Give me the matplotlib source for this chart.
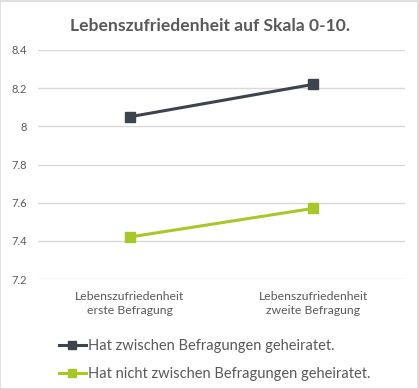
import numpy as np
import matplotlib
matplotlib.use('Agg')
import matplotlib.pyplot as plt
from matplotlib.patches import Rectangle

categories = ['Lebenszufriedenheit\nerste Befragung',
              'Lebenszufriedenheit\nzweite Befragung']
married = [8.05, 8.22]
not_married = [7.42, 7.57]
labels = ['Hat zwischen Befragungen geheiratet.',
          'Hat nicht zwischen Befragungen geheiratet.']
yticks = [7.2, 7.4, 7.6, 7.8, 8.0, 8.2, 8.4]
ytick_labels = ['7.2', '7.4', '7.6', '7.8', '8', '8.2', '8.4']

plt.rcParams['font.family'] = ['Lato', 'DejaVu Sans']
txt = '#595959'
dark = '#3d444c'
green = '#a8c82a'

fig = plt.figure(figsize=(4.19, 3.89), dpi=100)
fig.patches.append(Rectangle((0.001, 0.001), 0.997, 0.997, transform=fig.transFigure,
                             fill=False, ec='#d9d9d9', lw=1.2))
ax = fig.add_axes([38/419, 1-279/389, 367/419, 229/389])

x = np.arange(len(categories))
l1, = ax.plot(x, married, color=dark, lw=2.2, marker='s', ms=7.5, label=labels[0])
l2, = ax.plot(x, not_married, color=green, lw=2.2, marker='s', ms=7.5, label=labels[1])

ax.set_xlim(-0.5, 1.5)
ax.set_ylim(7.2, 8.4)
ax.set_yticks(yticks)
ax.set_yticklabels(ytick_labels, color=txt, fontsize=8)
ax.set_xticks(x)
ax.set_xticklabels(categories, color=txt, fontsize=8.8, linespacing=1.25)
ax.tick_params(length=0, pad=8)
ax.tick_params(axis='x', pad=9)
ax.grid(axis='y', color='#d9d9d9', lw=1)
ax.set_axisbelow(True)
for s in ax.spines.values():
    s.set_visible(False)

fig.text(0.5, 1-26/389, 'Lebenszufriedenheit auf Skala 0-10.', ha='center', va='center',
         fontsize=12.6, fontweight='bold', color=txt)

fig.legend(handles=[l1, l2], loc='upper left', bbox_to_anchor=(52/419, 1-332/389),
           frameon=False, fontsize=10.5, labelcolor=txt, handlelength=1.8,
           handletextpad=0.15, labelspacing=0.95, borderpad=0, markerscale=0.8)

fig.savefig('out.png', dpi=100)
